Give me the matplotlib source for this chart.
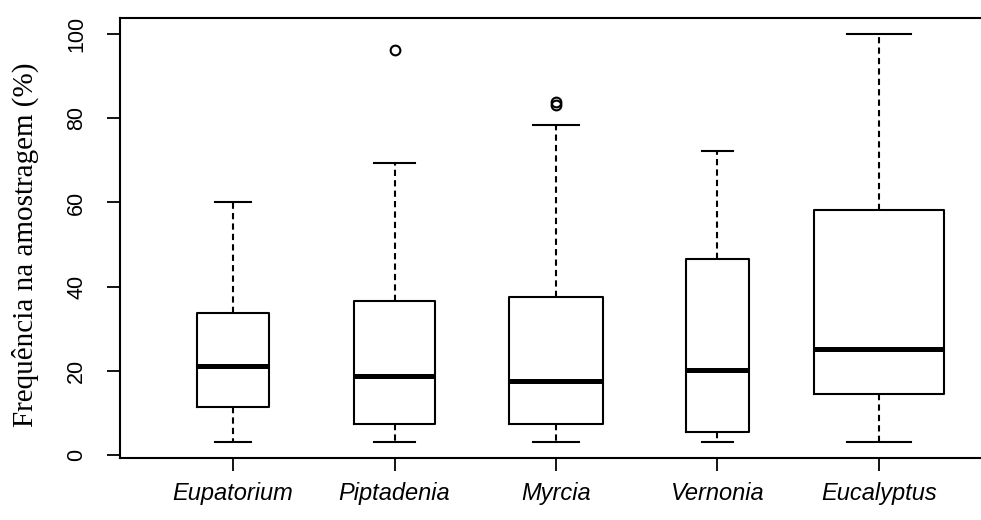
import matplotlib.pyplot as plt
import numpy as np

# dados
especies = ['Eupatorium', 'Piptadenia', 'Myrcia', 'Vernonia', 'Eucalyptus']
minimo = [3.1, 3.1, 3.1, 3.1, 3.1]
q1 = [11.3, 7.2, 7.2, 5.3, 14.4]
mediana = [21.1, 18.7, 17.5, 20.2, 25.2]
q3 = [33.6, 36.5, 37.4, 46.6, 58.3]
maximo = [60.0, 69.4, 78.5, 72.2, 100.0]
outliers = [[], [96.2], [84.0, 83.3], [], []]
n_amostras = [16, 20, 27, 12, 52]  # estimado pela largura das caixas (varwidth)

stats = []
for i in range(len(especies)):
    stats.append(dict(label=especies[i], whislo=minimo[i], q1=q1[i], med=mediana[i],
                      q3=q3[i], whishi=maximo[i], fliers=outliers[i]))

pos = np.arange(1, len(especies) + 1)
larg = 0.8 * np.sqrt(n_amostras) / np.sqrt(max(n_amostras))

fig = plt.figure(figsize=(9.81, 5.2), dpi=100)
ax = fig.add_axes([120/981, 62/520, 872/981, 440/520])

ax.bxp(stats, positions=pos, widths=larg, capwidths=larg/2,
       boxprops=dict(color='black', linewidth=1.5),
       medianprops=dict(color='black', linewidth=3.6, solid_capstyle='butt'),
       whiskerprops=dict(color='black', linewidth=1.5, linestyle=(0, (3, 2))),
       capprops=dict(color='black', linewidth=1.5),
       flierprops=dict(marker='o', markerfacecolor='none', markeredgecolor='black',
                       markersize=7, markeredgewidth=1.5))

ax.set_xlim(0.3, 5.7)
ax.set_ylim(-0.8, 103.9)

ax.set_yticks([0, 20, 40, 60, 80, 100])
ax.set_yticklabels(['0', '20', '40', '60', '80', '100'], family='Liberation Sans',
                   fontsize=15.5, rotation=90, va='center')
ax.set_xticks(pos)
ax.set_xticklabels(especies, family='Liberation Sans', style='italic', fontsize=17)
ax.tick_params(axis='both', direction='out', length=9.5, width=1.3, color='black')
ax.tick_params(axis='y', pad=14)
ax.tick_params(axis='x', pad=8)

for s in ['left', 'bottom', 'top']:
    ax.spines[s].set_linewidth(1.5)
ax.spines['right'].set_visible(False)

ax.set_ylabel('Frequência na amostragem (%)', family='Liberation Serif', fontsize=21)
ax.yaxis.set_label_coords(-0.093, 0.484)

fig.savefig('out.png', dpi=100)
